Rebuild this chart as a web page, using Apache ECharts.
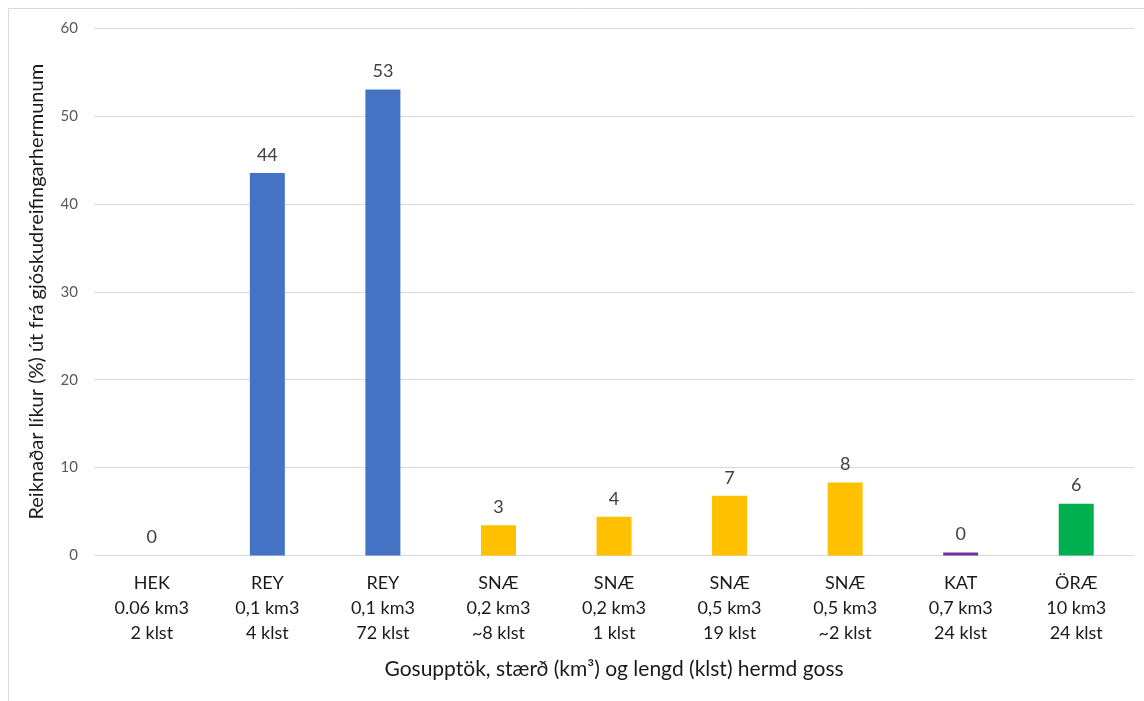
<!DOCTYPE html>
<html>
<head>
<meta charset="utf-8">
<style>
  html, body { margin: 0; padding: 0; background: #ffffff; }
  #chart { width: 1144px; height: 701px; }
</style>
<script src="https://cdn.jsdelivr.net/npm/echarts@6/dist/echarts.min.js"></script>
</head>
<body>
<div id="chart"></div>
<script>
// Eruption source, size and duration of each simulated eruption
const sources   = ['HEK', 'REY', 'REY', 'SNÆ', 'SNÆ', 'SNÆ', 'SNÆ', 'KAT', 'ÖRÆ'];
const volumes   = ['0.06 km3', '0,1 km3', '0,1 km3', '0,2 km3', '0,2 km3', '0,5 km3', '0,5 km3', '0,7 km3', '10 km3'];
const durations = ['2 klst', '4 klst', '72 klst', '~8 klst', '1 klst', '19 klst', '~2 klst', '24 klst', '24 klst'];

// Computed probability (%) from tephra dispersal simulations
const probability = [0, 43.5, 53, 3.45, 4.4, 6.8, 8.3, 0.35, 5.9];

// Bar colour per volcanic system
const barColors = ['#4472C4', '#4472C4', '#4472C4', '#FFC000', '#FFC000', '#FFC000', '#FFC000', '#7030A0', '#00B050'];

// Value axis ticks
const yMin = 0, yMax = 60, yStep = 10;

const categories = sources.map((s, i) => s + '\n' + volumes[i] + '\n' + durations[i]);

const FONT = 'Lato, "Open Sans", "Liberation Sans", sans-serif';

const chart = echarts.init(document.getElementById('chart'), null, { renderer: 'canvas' });

chart.setOption({
  animation: false,
  backgroundColor: '#ffffff',
  textStyle: { fontFamily: FONT },
  graphic: [{
    type: 'rect',
    shape: { x: 8.5, y: 8.5, width: 1150, height: 710 },
    style: { fill: 'none', stroke: '#d9d9d9', lineWidth: 1 },
    silent: true
  }],
  grid: { left: 94, right: 10, top: 28, bottom: 145.5, containLabel: false },
  xAxis: {
    type: 'category',
    data: categories,
    axisLine: { show: true, lineStyle: { color: '#d9d9d9', width: 1 } },
    axisTick: { show: false },
    axisLabel: {
      interval: 0,
      margin: 15,
      fontSize: 18,
      lineHeight: 25,
      color: '#1a1a1a',
      fontFamily: FONT
    },
    name: 'Gosupptök, stærð (km³) og lengd (klst) hermd goss',
    nameLocation: 'middle',
    nameGap: 103,
    nameTextStyle: { fontSize: 21, color: '#1a1a1a', fontFamily: FONT }
  },
  yAxis: {
    type: 'value',
    min: yMin,
    max: yMax,
    interval: yStep,
    axisLine: { show: false },
    axisTick: { show: false },
    splitLine: { lineStyle: { color: '#d9d9d9', width: 1 } },
    axisLabel: { margin: 16, fontSize: 15, color: '#595959', fontFamily: FONT },
    name: 'Reiknaðar líkur (%) út frá gjóskudreifingarhermunum',
    nameLocation: 'middle',
    nameGap: 47,
    nameRotate: 90,
    nameTextStyle: { fontSize: 20, color: '#1a1a1a', fontFamily: FONT }
  },
  series: [{
    type: 'bar',
    data: probability.map((v, i) => ({ value: v, itemStyle: { color: barColors[i] } })),
    barWidth: 35,
    label: {
      show: true,
      position: 'top',
      distance: 9,
      fontSize: 18,
      color: '#404040',
      fontFamily: FONT,
      formatter: p => String(Math.round(p.value))
    }
  }]
});
</script>
</body>
</html>
